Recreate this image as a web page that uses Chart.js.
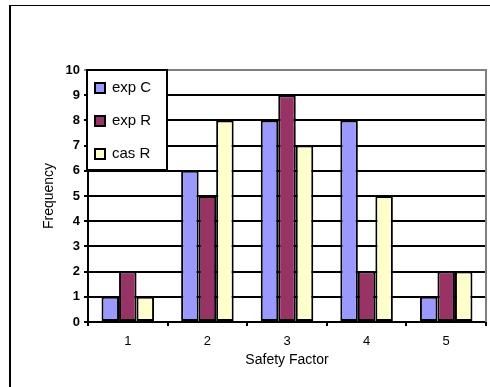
<!DOCTYPE html>
<html>
<head>
<meta charset="utf-8">
<script src="https://cdn.jsdelivr.net/npm/chart.js@4/dist/chart.umd.min.js"></script>
<style>
  html, body { margin: 0; padding: 0; background: #ffffff; }
  #wrap { position: relative; width: 490px; height: 387px; }
</style>
</head>
<body>
<div id="wrap"><canvas id="c"></canvas></div>
<script>
const categories = ['1', '2', '3', '4', '5'];
const seriesNames = ['exp C', 'exp R', 'cas R'];
const expC = [1, 6, 8, 8, 1];
const expR = [2, 5, 9, 2, 2];
const casR = [1, 8, 7, 5, 2];
const yTicks = [0, 1, 2, 3, 4, 5, 6, 7, 8, 9, 10];
const colors = ['#9999FF', '#993366', '#FFFFCC'];

const FONT = "'Liberation Sans', Arial, sans-serif";

const framePlugin = {
  id: 'frame',
  beforeDraw(chart) {
    const ctx = chart.ctx;
    ctx.save();
    ctx.fillStyle = '#ffffff';
    ctx.fillRect(0, 0, chart.width, chart.height);
    ctx.strokeStyle = '#000000';
    ctx.lineWidth = 1;
    ctx.beginPath();
    ctx.moveTo(9, 5.5);
    ctx.lineTo(chart.width, 5.5);
    ctx.stroke();
    ctx.lineWidth = 2;
    ctx.beginPath();
    ctx.moveTo(10, 5);
    ctx.lineTo(10, chart.height);
    ctx.stroke();
    ctx.restore();
  },
  afterDraw(chart) {
    const ctx = chart.ctx;
    const a = chart.chartArea;
    ctx.save();
    ctx.strokeStyle = '#808080';
    ctx.lineWidth = 2;
    ctx.beginPath();
    ctx.moveTo(a.left, a.top);
    ctx.lineTo(a.right, a.top);
    ctx.lineTo(a.right, a.bottom);
    ctx.stroke();
    const lx = a.left - 1, ly = a.top, lw = 80, lh = 100;
    ctx.fillStyle = '#ffffff';
    ctx.fillRect(lx, ly, lw, lh);
    ctx.strokeStyle = '#000000';
    ctx.lineWidth = 2;
    ctx.strokeRect(lx, ly, lw, lh);
    ctx.font = '15px ' + FONT;
    ctx.textBaseline = 'middle';
    ctx.textAlign = 'left';
    chart.data.datasets.forEach((ds, i) => {
      const cy = ly + 18 + i * 33;
      ctx.fillStyle = ds.backgroundColor;
      ctx.fillRect(lx + 8, cy - 5, 10, 10);
      ctx.strokeStyle = '#000000';
      ctx.lineWidth = 2;
      ctx.strokeRect(lx + 8, cy - 5, 10, 10);
      ctx.fillStyle = '#000000';
      ctx.fillText(ds.label, lx + 25, cy);
    });
    ctx.restore();
  }
};

const seriesData = [expC, expR, casR];
new Chart(document.getElementById('c'), {
  type: 'bar',
  data: {
    labels: categories,
    datasets: seriesNames.map((name, i) => ({
      label: name,
      data: seriesData[i],
      backgroundColor: colors[i],
      borderColor: '#000000',
      borderWidth: 2,
      borderSkipped: false,
      barPercentage: 1.0,
      categoryPercentage: 0.66
    }))
  },
  options: {
    responsive: true,
    maintainAspectRatio: false,
    animation: false,
    devicePixelRatio: 1,
    layout: { padding: { left: 0, top: 70, right: 4, bottom: 0 } },
    plugins: {
      legend: { display: false },
      tooltip: { enabled: false },
      title: { display: false }
    },
    scales: {
      x: {
        afterFit(s) { s.height = 65; },
        grid: {
          offset: true,
          drawOnChartArea: false,
          drawTicks: true,
          tickLength: 4,
          color: '#000000',
          lineWidth: 2
        },
        border: { display: true, color: '#000000', width: 2 },
        ticks: {
          color: '#000000',
          font: { family: FONT, size: 13 },
          padding: 8
        },
        title: {
          display: true,
          text: 'Safety Factor',
          color: '#000000',
          font: { family: FONT, size: 14 },
          padding: { top: 0, bottom: 18 }
        }
      },
      y: {
        min: 0,
        max: 10,
        afterFit(s) { s.width = 88; },
        afterBuildTicks(s) { s.ticks = yTicks.map(v => ({ value: v })); },
        grid: {
          color: (c) => (c.tick && c.tick.value === 10 ? '#808080' : '#000000'),
          lineWidth: 2,
          tickLength: 4,
          drawTicks: true
        },
        border: { display: true, color: '#000000', width: 2 },
        ticks: {
          color: '#000000',
          font: { family: FONT, size: 13, weight: 'bold' },
          padding: 4,
          stepSize: 1
        },
        title: {
          display: true,
          text: 'Frequency',
          color: '#000000',
          font: { family: FONT, size: 14 },
          padding: { top: 41, bottom: 0 }
        }
      }
    }
  },
  plugins: [framePlugin]
});
</script>
</body>
</html>
